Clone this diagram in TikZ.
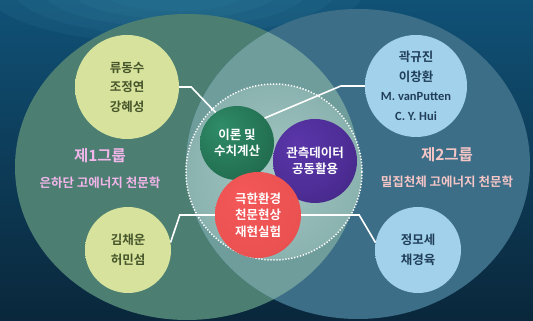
\documentclass[tikz,border=0pt]{standalone}
\usepackage{fontspec}
\usepackage{tikz}
\usetikzlibrary{positioning}

\newfontfamily\kr{Noto Sans CJK KR}[BoldFont={Noto Sans CJK KR Bold}]
\newfontfamily\lat{Carlito}

\definecolor{bgtop}{HTML}{105176}
\definecolor{bgbot}{HTML}{0A273B}
\definecolor{glowtop}{HTML}{3A8CAA}
\definecolor{grpone}{HTML}{4C7F72}
\definecolor{grptwo}{HTML}{3D6E88}
\definecolor{overlap}{HTML}{6E9D9B}
\definecolor{glowin}{HTML}{A5C7C3}
\definecolor{ylwin}{HTML}{D7E39D}
\definecolor{ylwout}{HTML}{8E9458}
\definecolor{bluin}{HTML}{A2D2EB}
\definecolor{bluout}{HTML}{5F7F92}
\definecolor{grnin}{HTML}{2F8C68}
\definecolor{grnout}{HTML}{145138}
\definecolor{prpin}{HTML}{5A36AA}
\definecolor{prpout}{HTML}{311A68}
\definecolor{redin}{HTML}{F45858}
\definecolor{redout}{HTML}{B52A2A}
\definecolor{ylwtext}{HTML}{46552A}
\definecolor{blutext}{HTML}{203E5A}
\definecolor{pinkone}{HTML}{F2B6EA}
\definecolor{pinktwo}{HTML}{F5C6C6}

% soft-edged balls
\pgfdeclareradialshading{ylwball}{\pgfpoint{-8bp}{8bp}}{color(0bp)=(ylwin); color(34bp)=(ylwin); color(56bp)=(ylwout)}
\pgfdeclareradialshading{bluball}{\pgfpoint{-8bp}{8bp}}{color(0bp)=(bluin); color(34bp)=(bluin); color(56bp)=(bluout)}
\pgfdeclareradialshading{grnball}{\pgfpoint{-12bp}{12bp}}{color(0bp)=(grnin); color(25bp)=(grnin!60!grnout); color(58bp)=(grnout)}
\pgfdeclareradialshading{prpball}{\pgfpoint{-12bp}{12bp}}{color(0bp)=(prpin); color(25bp)=(prpin!70!prpout); color(58bp)=(prpout)}
\pgfdeclareradialshading{redball}{\pgfpoint{-10bp}{12bp}}{color(0bp)=(redin); color(30bp)=(redin!85!redout); color(58bp)=(redout)}
\pgfdeclareradialshading{coreglow}{\pgfpoint{0bp}{0bp}}{color(0bp)=(glowin); color(50bp)=(overlap)}

\begin{document}
\begin{tikzpicture}[x=1pt, y=1pt,
    member/.style={circle, inner sep=0pt, align=center,
      font=\kr\bfseries\fontsize{12.5}{19.5}\selectfont},
    topic/.style={circle, inner sep=0pt, align=center, text=white,
      font=\kr\bfseries\fontsize{12.5}{16.5}\selectfont},
    link/.style={draw=white, line width=1.6pt},
    grptitle/.style={inner sep=0pt, font=\kr\bfseries\fontsize{15.5}{18}\selectfont},
    grpfield/.style={inner sep=0pt, font=\kr\bfseries\fontsize{12.5}{15}\selectfont}]
  \useasboundingbox (0,0) rectangle (533,321);
  \clip (0,0) rectangle (533,321);

  % sky, with a soft haze at the top
  \shade[top color=bgtop, bottom color=bgbot] (0,0) rectangle (533,321);
  \foreach \s in {1,0.85,0.7,0.55,0.4}
    \fill[glowtop, opacity=0.12] (175,332) ellipse [x radius=190*\s, y radius=55*\s];

  % the two groups and their overlap
  \fill[grpone] (187,154) ellipse [x radius=172, y radius=153];
  \fill[grptwo] (358,157) ellipse [x radius=172, y radius=155];
  \begin{scope}
    \clip (187,154) ellipse [x radius=172, y radius=153];
    \fill[overlap] (358,157) ellipse [x radius=172, y radius=155];
  \end{scope}

  % shared topics
  \node[circle, minimum size=176pt, shading=coreglow, draw=white, line width=1.5pt,
    dash pattern=on 1.3pt off 1.7pt] (core) at (274,149) {};
  \node[topic, minimum size=84pt, shading=prpball] (obs) at (315,160) {관측데이터\\공동활용};
  \node[topic, minimum size=74pt, shading=grnball] (theory) at (237,178) {이론 및\\수치계산};
  \node[topic, minimum size=86pt, shading=redball] (lab) at (258,106) {극한환경\\천문현상\\재현실험};

  % members
  \node[member, minimum size=104pt, shading=ylwball, text=ylwtext] (ryu) at (127,234) {류동수\\조정연\\강혜성};
  \node[member, minimum size=86pt, shading=ylwball, text=ylwtext] (kim) at (128,71) {김채운\\허민섬};
  \node[member, minimum size=102pt, shading=bluball, text=blutext] (kwak) at (416,235)
    {곽규진\\이창환\\{\lat\bfseries M. vanPutten}\\{\lat\bfseries C. Y. Hui}};
  \node[member, minimum size=86pt, shading=bluball, text=blutext] (jung) at (418,71) {정모세\\채경육};

  \draw[link] (ryu.east) -- ++(12,0) -- (theory.125);
  \draw[link] (kwak.west) -- ++(-24,0) -- (theory.42);
  \draw[link] (lab.west) -- ++(-35,0) -- (kim.10);
  \draw[link] (lab.east) -- ++(58,0) -- (jung.170);

  % group labels
  \node[grptitle, text=pinkone] (g1) at (100,165) {제1그룹};
  \node[grpfield, text=pinkone, below=13pt of g1] (g1field) {은하단 고에너지 천문학};
  \node[grptitle, text=pinktwo] (g2) at (447,166) {제2그룹};
  \node[grpfield, text=pinktwo, below=13pt of g2] (g2field) {밀집천체 고에너지 천문학};
\end{tikzpicture}
\end{document}
